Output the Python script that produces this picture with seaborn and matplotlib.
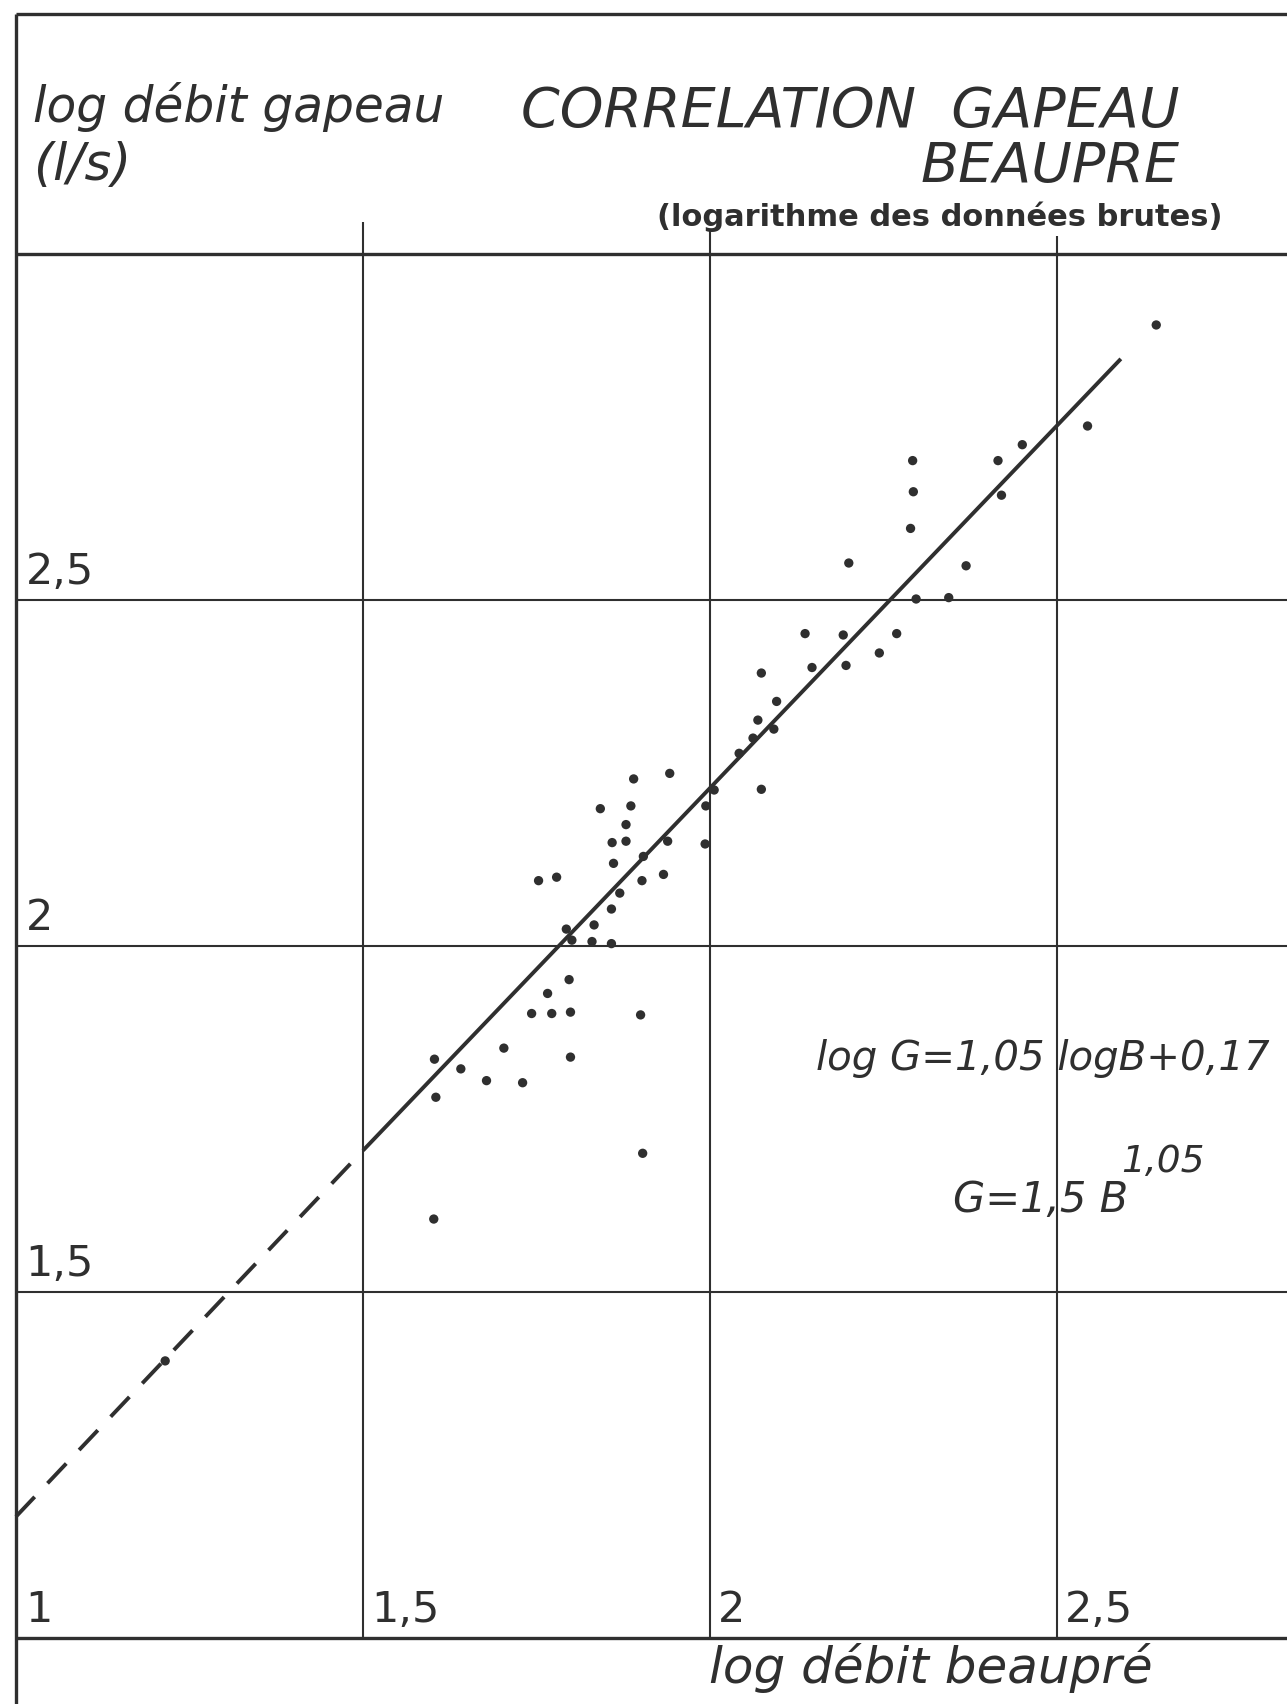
"""
Corrélation Gapeau / Beaupré (log des débits bruts) - redessin du graphique scanné.
"""

import numpy as np
import pandas as pd
import matplotlib
matplotlib.use("Agg")
import matplotlib.pyplot as plt
import seaborn as sns

# ── Données ───────────────────────────────────────────────────────────────
LOG_B = [2.643, 2.544, 2.450, 2.415, 2.292, 2.293, 2.420, 2.289, 2.200, 2.369,
         2.297, 2.344, 2.269, 2.137, 2.192, 2.244, 2.074, 2.147, 2.196, 2.096,
         2.069, 2.062, 2.092, 2.042, 2.006, 2.074, 1.994, 1.993, 1.942, 1.890,
         1.886, 1.842, 1.879, 1.879, 1.859, 1.939, 1.904, 1.861, 1.933, 1.902,
         1.753, 1.779, 1.870, 1.858, 1.833, 1.793, 1.801, 1.830, 1.858, 1.797,
         1.766, 1.743, 1.772, 1.799, 1.900, 1.703, 1.799, 1.603, 1.641, 1.678,
         1.730, 1.605, 1.903, 1.602, 1.215]
LOG_G = [2.897, 2.751, 2.724, 2.701, 2.701, 2.656, 2.651, 2.603, 2.553, 2.549,
         2.501, 2.503, 2.451, 2.451, 2.449, 2.423, 2.394, 2.402, 2.405, 2.353,
         2.326, 2.300, 2.313, 2.278, 2.225, 2.226, 2.202, 2.147, 2.249, 2.241,
         2.202, 2.198, 2.175, 2.151, 2.149, 2.151, 2.129, 2.119, 2.103, 2.094,
         2.094, 2.099, 2.076, 2.053, 2.030, 2.024, 2.008, 2.006, 2.003, 1.951,
         1.931, 1.902, 1.902, 1.904, 1.900, 1.852, 1.839, 1.836, 1.822, 1.805,
         1.802, 1.781, 1.700, 1.605, 1.400]

# droite de régression tracée (pointillés puis trait plein)
LINE_X = [1.0, 1.5, 2.592]
LINE_Y = [1.175, 1.704, 2.848]

GRID_X = [1.5, 2.0, 2.5]
GRID_X_TOP = [3.046, 3.036, 3.025]
GRID_Y = [1.5, 2.0, 2.5]
X_LABELS = ["1,5", "2", "2,5"]
Y_TICKS = [1.0, 1.5, 2.0, 2.5]
Y_LABELS = ["1", "1,5", "2", "2,5"]

X_MIN, X_MAX = 0.977, 2.8314
Y_MIN, Y_MAX = 0.9042, 3.3666
TOP_FRAME = 3.346

INK = "#2f2f2f"

sns.set_theme(style="white")
plt.rcParams["font.family"] = ["DejaVu Sans"]

df = pd.DataFrame({"log_b": LOG_B, "log_g": LOG_G})

fig = plt.figure(figsize=(12.87, 17.04), dpi=100)
ax = fig.add_axes([0, 0, 1, 1])
ax.set_xlim(X_MIN, X_MAX)
ax.set_ylim(Y_MIN, Y_MAX)
ax.axis("off")

# cadre et quadrillage
ax.vlines(1.0, Y_MIN, TOP_FRAME, color=INK, lw=2.4)
ax.hlines([1.0, 3.0, TOP_FRAME], 1.0, X_MAX, color=INK, lw=2.4)
ax.hlines(GRID_Y, 1.0, X_MAX, color=INK, lw=1.5)
ax.vlines(GRID_X, 1.0, GRID_X_TOP, color=INK, lw=1.5)

# droite d'ajustement
ax.plot(LINE_X[:2], LINE_Y[:2], color=INK, lw=2.8, dashes=(7, 4.8))
ax.plot(LINE_X[1:], LINE_Y[1:], color=INK, lw=2.8, solid_capstyle="butt")

sns.scatterplot(data=df, x="log_b", y="log_g", ax=ax, color=INK,
                s=45, edgecolor="none", legend=False, zorder=3)

# graduations
for y, lab in zip(Y_TICKS, Y_LABELS):
    ax.text(1.014, y + 0.022, lab, fontsize=31, color=INK, va="baseline", ha="left")
for x, lab in zip(GRID_X, X_LABELS):
    ax.text(x + 0.012, 1.022, lab, fontsize=31, color=INK, va="baseline", ha="left")

# textes
ital = dict(style="italic", color=INK)
ax.text(1.024, 3.190, "log débit gapeau", fontsize=35, va="baseline", **ital)
ax.text(1.024, 3.106, "(l/s)", fontsize=37, va="baseline", **ital)
ax.text(2.677, 3.183, "CORRELATION  GAPEAU", fontsize=40, va="baseline", ha="right", **ital)
ax.text(2.677, 3.104, "BEAUPRE", fontsize=40, va="baseline", ha="right", **ital)
ax.text(2.739, 3.053, "(logarithme des données brutes)", fontsize=22,
        fontweight="bold", va="center", ha="right", color=INK)
ax.text(1.999, 0.934, "log débit beaupré", fontsize=36, va="baseline", **ital)

ax.text(2.153, 1.820, "log G=1,05 logB+0,17", fontsize=29, va="baseline", **ital)
ax.text(2.350, 1.615, "G=1,5 B", fontsize=30, va="baseline", **ital)
ax.text(2.593, 1.673, "1,05", fontsize=27, va="baseline", **ital)

fig.savefig("out.png", dpi=100, facecolor="white")
